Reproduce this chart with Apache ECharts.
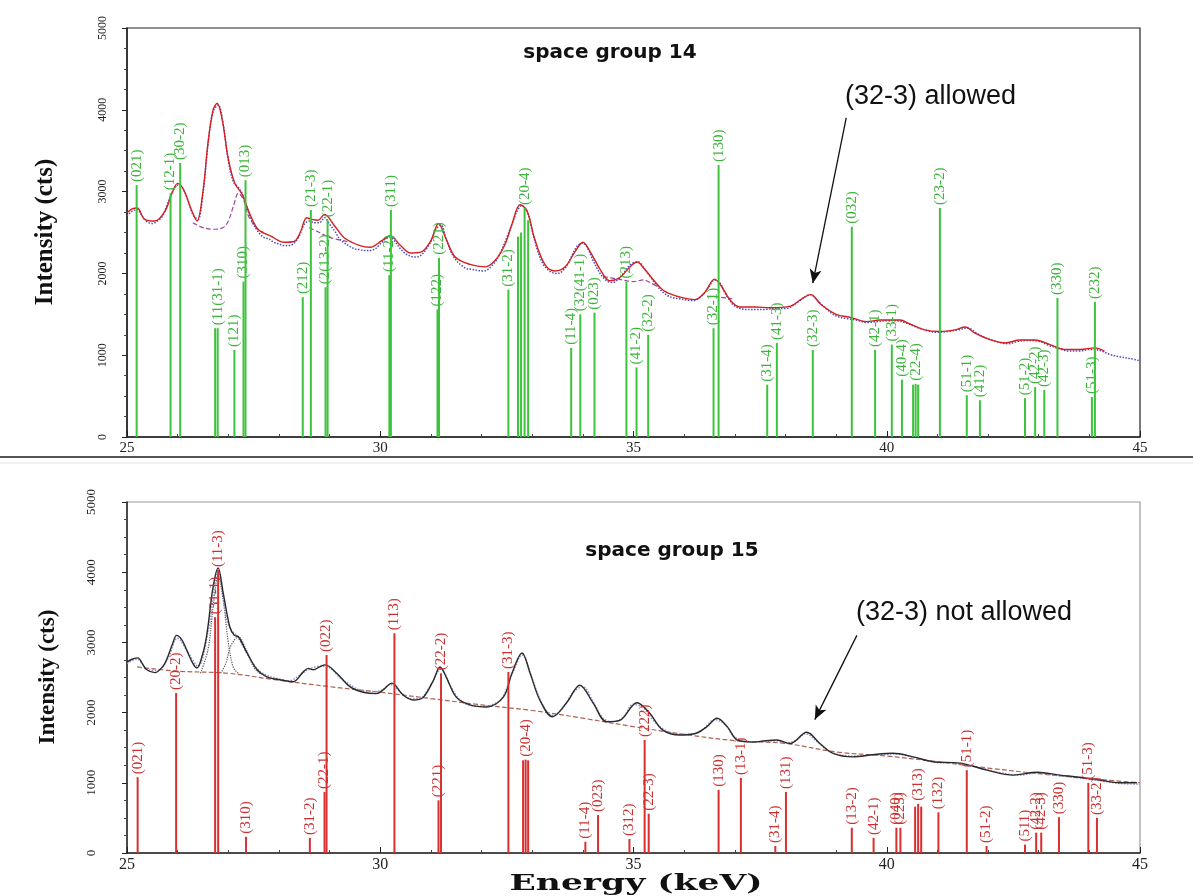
<!DOCTYPE html>
<html><head><meta charset="utf-8">
<script src="https://cdn.jsdelivr.net/npm/echarts@6/dist/echarts.min.js"></script>
<style>html,body{margin:0;padding:0;background:#fff}#c{width:1193px;height:896px}</style>
</head><body><div id="c"></div>
<script>
// ---------- data (energy keV, intensity cts) ----------
const energyTicks = [25, 30, 35, 40, 45];
const intensityTicks = [0, 1000, 2000, 3000, 4000, 5000];

// space group 14 : calculated fit (red)
const sg14Fit = [[25.0,2740],[25.1,2790],[25.2,2800],[25.35,2660],[25.55,2640],[25.75,2760],[25.9,3000],[26.0,3100],[26.12,3020],[26.27,2780],[26.38,2640],[26.5,3000],[26.6,3600],[26.7,4000],[26.78,4080],[26.88,3880],[27.0,3400],[27.13,3100],[27.27,2970],[27.43,2720],[27.6,2530],[27.83,2460],[28.1,2380],[28.3,2390],[28.42,2500],[28.55,2680],[28.65,2660],[28.77,2650],[28.9,2720],[29.1,2580],[29.3,2430],[29.6,2340],[29.8,2320],[30.03,2400],[30.2,2460],[30.4,2340],[30.6,2250],[30.8,2260],[31.0,2400],[31.15,2610],[31.3,2420],[31.48,2200],[31.77,2110],[32.07,2080],[32.27,2160],[32.46,2350],[32.6,2600],[32.76,2840],[32.9,2760],[33.05,2420],[33.25,2110],[33.45,2030],[33.65,2080],[33.85,2270],[34.0,2380],[34.14,2270],[34.34,2050],[34.53,1910],[34.73,1950],[34.93,2080],[35.07,2140],[35.22,2050],[35.42,1900],[35.62,1780],[35.92,1710],[36.21,1680],[36.41,1770],[36.6,1930],[36.74,1840],[36.9,1680],[37.1,1590],[37.4,1590],[37.7,1580],[38.1,1600],[38.3,1680],[38.5,1740],[38.7,1620],[39.0,1500],[39.3,1460],[39.6,1410],[39.87,1430],[40.26,1430],[40.46,1380],[40.75,1310],[41.05,1290],[41.35,1310],[41.55,1345],[41.74,1270],[42.04,1190],[42.34,1150],[42.63,1185],[42.93,1185],[43.22,1130],[43.52,1070],[43.82,1070],[44.11,1090],[44.3,1050]];

// space group 14 : observed (blue dots)
const sg14Obs = [[25.0,2700],[25.1,2760],[25.2,2780],[25.3,2700],[25.4,2630],[25.5,2610],[25.6,2640],[25.7,2700],[25.8,2850],[25.9,3000],[26.0,3080],[26.1,3040],[26.2,2900],[26.3,2720],[26.4,2660],[26.5,2980],[26.6,3580],[26.7,3980],[26.8,4060],[26.9,3820],[27.0,3380],[27.1,3120],[27.2,3050],[27.3,2940],[27.4,2740],[27.5,2600],[27.6,2500],[27.7,2440],[27.8,2420],[27.9,2380],[28.0,2360],[28.1,2340],[28.2,2340],[28.3,2370],[28.4,2460],[28.5,2600],[28.6,2640],[28.7,2620],[28.8,2620],[28.9,2680],[29.0,2600],[29.1,2520],[29.2,2420],[29.3,2370],[29.4,2330],[29.5,2300],[29.6,2290],[29.7,2280],[29.8,2280],[29.9,2300],[30.0,2360],[30.1,2420],[30.2,2440],[30.3,2380],[30.4,2300],[30.5,2240],[30.6,2210],[30.7,2200],[30.8,2220],[30.9,2290],[31.0,2390],[31.1,2540],[31.2,2590],[31.3,2420],[31.4,2260],[31.5,2160],[31.6,2100],[31.7,2060],[31.8,2050],[31.9,2040],[32.0,2030],[32.1,2040],[32.2,2090],[32.3,2170],[32.4,2290],[32.5,2440],[32.6,2600],[32.7,2760],[32.8,2830],[32.9,2760],[33.0,2520],[33.1,2290],[33.2,2130],[33.3,2050],[33.4,2010],[33.5,2000],[33.6,2030],[33.7,2110],[33.8,2240],[33.9,2340],[34.0,2370],[34.1,2300],[34.2,2160],[34.3,2040],[34.4,1950],[34.5,1900],[34.6,1890],[34.7,1930],[34.8,2000],[34.9,2080],[35.0,2130],[35.1,2140],[35.2,2070],[35.3,1990],[35.4,1900],[35.5,1820],[35.6,1760],[35.7,1720],[35.8,1700],[35.9,1690],[36.0,1680],[36.1,1670],[36.2,1670],[36.3,1700],[36.4,1760],[36.5,1850],[36.6,1920],[36.7,1890],[36.8,1770],[36.9,1670],[37.0,1600],[37.2,1560],[37.4,1560],[37.6,1560],[37.8,1570],[38.0,1570],[38.2,1630],[38.4,1720],[38.5,1740],[38.6,1690],[38.8,1570],[39.0,1480],[39.2,1450],[39.4,1430],[39.6,1400],[39.8,1410],[40.0,1420],[40.2,1420],[40.4,1390],[40.6,1340],[40.8,1300],[41.0,1280],[41.2,1290],[41.4,1310],[41.6,1330],[41.8,1260],[42.0,1200],[42.2,1160],[42.4,1140],[42.6,1170],[42.8,1180],[43.0,1170],[43.2,1120],[43.4,1080],[43.6,1050],[43.8,1050],[44.0,1070],[44.2,1060],[44.4,1010],[44.6,980],[44.8,960],[45.0,930]];

// space group 14 : fitted components (purple dashed)
const sg14CompA = [[26.3,2620],[26.5,2560],[26.7,2540],[26.9,2560],[27.0,2640],[27.1,2820],[27.2,2980],[27.3,2900],[27.4,2700],[27.55,2560],[27.7,2500]];
const sg14CompB = [[28.6,2560],[28.8,2500],[29.0,2440],[29.35,2390]];
const sg14CompC = [[34.4,1960],[34.7,1930],[35.0,1900],[35.2,1920],[35.35,1880],[35.5,1830]];
const sg14CompD = [[36.45,1720],[36.7,1710],[36.95,1690]];

// space group 14 : reflection positions [energy, intensity, hkl]
const sg14Peaks = [[25.19,3080,'(021)'],[25.86,2980,'(12-1)'],[26.05,3350,'(30-2)'],[26.74,1330,''],[26.79,1330,'(11(31-1)'],[27.12,1065,'(121)'],[27.30,1900,'(310)'],[27.34,3140,'(013)'],[28.47,1710,'(212)'],[28.63,2775,'(21-3)'],[28.92,1830,'(2(13-2)'],[28.96,2650,'(22-1)'],[30.18,1980,'(11-2)'],[30.21,2775,'(311)'],[31.13,1560,'(122)'],[31.16,2190,'(221)'],[32.53,1800,'(31-2)'],[32.72,2450,''],[32.78,2500,''],[32.85,2800,'(20-4)'],[32.92,2650,''],[33.77,1090,'(11-4)'],[33.95,1500,'(32(41-1)'],[34.23,1520,'(023)'],[34.86,1900,'(213)'],[35.06,850,'(41-2)'],[35.29,1250,'(32-2)'],[36.58,1330,'(32-1)'],[36.68,3325,'(130)'],[37.64,640,'(31-4)'],[37.83,1150,'(41-3)'],[38.54,1065,'(32-3)'],[39.31,2570,'(032)'],[39.77,1065,'(42-1)'],[40.10,1130,'(33-1)'],[40.30,700,'(40-4)'],[40.52,640,''],[40.57,650,'(22-4)'],[40.62,640,''],[41.05,2800,'(23-2)'],[41.58,510,'(51-1)'],[41.84,450,'(412)'],[42.73,475,'(51-2)'],[42.93,610,'(42-2)'],[43.11,575,'(42-3)'],[43.37,1700,'(330)'],[44.05,490,'(51-3)'],[44.11,1650,'(232)']];

// space group 15 : calculated fit (black)
const sg15Fit = [[25.0,2720],[25.1,2760],[25.22,2780],[25.3,2700],[25.39,2610],[25.55,2570],[25.7,2650],[25.78,2750],[25.9,2980],[25.98,3100],[26.08,3040],[26.18,2890],[26.3,2700],[26.38,2635],[26.5,2850],[26.58,3130],[26.7,3790],[26.8,4060],[26.9,3700],[27.03,3220],[27.12,3100],[27.2,3080],[27.37,2850],[27.57,2610],[27.76,2510],[28.08,2460],[28.28,2440],[28.48,2580],[28.58,2630],[28.68,2610],[28.8,2650],[28.91,2680],[29.14,2560],[29.4,2370],[29.66,2290],[29.93,2270],[30.05,2320],[30.23,2420],[30.45,2250],[30.65,2180],[30.85,2220],[31.05,2460],[31.18,2650],[31.3,2510],[31.5,2220],[31.77,2110],[32.1,2080],[32.43,2220],[32.6,2560],[32.8,2850],[32.96,2560],[33.15,2180],[33.4,1940],[33.68,2140],[33.94,2390],[34.2,2140],[34.47,1870],[34.73,1890],[35.07,2140],[35.32,1990],[35.58,1750],[35.92,1680],[36.25,1710],[36.45,1800],[36.65,1920],[36.85,1800],[37.05,1610],[37.37,1580],[37.6,1600],[37.83,1610],[38.09,1560],[38.42,1720],[38.68,1560],[38.94,1420],[39.33,1370],[39.72,1400],[40.12,1420],[40.52,1370],[40.91,1300],[41.45,1280],[41.98,1180],[42.5,1110],[42.97,1150],[43.42,1110],[43.8,1080],[44.2,1040],[44.6,1000],[44.94,1000]];

// space group 15 : observed (blue dots)
const sg15Obs = [[25.0,2700],[25.2,2760],[25.4,2620],[25.6,2600],[25.8,2760],[26.0,3060],[26.2,2860],[26.4,2660],[26.6,3150],[26.8,4000],[27.0,3250],[27.2,3060],[27.4,2800],[27.6,2600],[27.8,2520],[28.0,2480],[28.2,2450],[28.4,2530],[28.6,2620],[28.8,2660],[29.0,2640],[29.2,2500],[29.4,2400],[29.6,2320],[29.8,2300],[30.0,2310],[30.2,2400],[30.4,2290],[30.6,2200],[30.8,2210],[31.0,2400],[31.2,2620],[31.4,2360],[31.6,2160],[31.8,2100],[32.0,2090],[32.2,2110],[32.4,2200],[32.6,2540],[32.8,2820],[33.0,2480],[33.2,2120],[33.4,1960],[33.6,2060],[33.8,2280],[34.0,2370],[34.2,2160],[34.4,1920],[34.6,1870],[34.8,1940],[35.0,2120],[35.2,2060],[35.4,1880],[35.6,1760],[35.8,1700],[36.0,1690],[36.2,1700],[36.4,1780],[36.6,1900],[36.8,1830],[37.0,1650],[37.2,1590],[37.4,1580],[37.6,1590],[37.8,1600],[38.0,1570],[38.2,1600],[38.4,1700],[38.6,1600],[38.8,1480],[39.0,1410],[39.4,1380],[39.8,1400],[40.2,1410],[40.6,1350],[41.0,1290],[41.4,1270],[41.8,1220],[42.2,1150],[42.6,1110],[43.0,1140],[43.4,1100],[43.8,1070],[44.2,1030],[44.6,990],[45.0,980]];

// space group 15 : background (dashed) and components (dotted)
const sg15Background = [[25.2,2650],[26,2590],[27,2560],[28,2460],[29,2370],[30,2290],[31,2200],[32,2110],[33,2030],[34,1920],[35,1800],[36,1690],[37,1600],[38,1560],[39,1440],[40,1380],[41,1300],[42,1210],[43,1130],[44,1060],[45,1000]];
const sg15Comp1 = [[26.45,2560],[26.6,2900],[26.7,3500],[26.8,3950],[26.9,3600],[27.0,3000],[27.1,2640],[27.2,2560]];
const sg15Comp2 = [[26.85,2560],[26.95,2700],[27.05,2950],[27.2,3080],[27.35,2900],[27.5,2650],[27.65,2540]];

// space group 15 : reflection positions [energy, intensity, hkl]
const sg15Peaks = [[25.21,1080,'(021)'],[25.97,2280,'(20-2)'],[26.74,3360,'(31-1)'],[26.80,4030,'(11-3)'],[27.35,230,'(310)'],[28.61,215,'(31-2)'],[28.90,870,'(22-1)'],[28.94,2820,'(022)'],[30.28,3130,'(113)'],[31.15,750,'(221)'],[31.20,2560,'(22-2)'],[32.53,2580,'(31-3)'],[32.82,1320,''],[32.87,1330,'(20-4)'],[32.92,1320,''],[34.05,160,'(11-4)'],[34.30,540,'(023)'],[34.92,200,'(312)'],[35.22,1610,'(222)'],[35.30,560,'(22-3)'],[36.68,900,'(130)'],[37.12,1070,'(13-1)'],[37.80,100,'(31-4)'],[38.01,870,'(131)'],[39.31,360,'(13-2)'],[39.74,215,'(42-1)'],[40.19,360,'(040)'],[40.27,360,'(223)'],[40.56,660,''],[40.62,700,'(313)'],[40.68,660,''],[41.02,580,'(132)'],[41.58,1180,'(51-1)'],[41.97,100,'(51-2)'],[42.73,120,'(511)'],[42.95,290,'(42-2)'],[43.05,290,'(42-3)'],[43.40,510,'(330)'],[43.98,1000,'(51-3)'],[44.15,500,'(33-2)']];

// annotation arrows [from, to] in data units
const arrow14 = [[39.2,3900],[38.54,1880]];
const arrow15 = [[39.41,3100],[38.58,1900]];

// ---------- chart ----------
const chart = echarts.init(document.getElementById('c'), null, {renderer:'canvas'});

function sticks(peaks, color, labelColor, xi) {
  return {
    type:'custom', xAxisIndex:xi, yAxisIndex:xi, silent:true, z:5,
    data: peaks.map(p => [p[0], p[1]]),
    encode:{x:0, y:1},
    renderItem: function(params, api) {
      const e = api.value(0), v = api.value(1);
      const lbl = peaks[params.dataIndex][2];
      const a = api.coord([e, 0]), b = api.coord([e, v]);
      const ch = [{type:'line', shape:{x1:a[0], y1:a[1], x2:b[0], y2:b[1]}, style:{stroke:color, lineWidth:2}}];
      if (lbl) ch.push({type:'text', x:b[0], y:b[1]-3, rotation:Math.PI/2,
        style:{text:lbl, fill:labelColor, font:'15px "Liberation Serif"', align:'left', verticalAlign:'middle'}});
      return {type:'group', children:ch};
    }
  };
}
function line(data, xi, color, type, width, z, extra) {
  return Object.assign({type:'line', xAxisIndex:xi, yAxisIndex:xi, data:data, showSymbol:false, silent:true,
    z:z, smooth:0.35, lineStyle:{color:color, type:type, width:width}}, extra||{});
}
function arrowMark(arr) {
  return {markLine:{silent:true, symbol:['none','arrow'], symbolSize:[9,14], animation:false,
    lineStyle:{color:'#111', width:1.3, type:'solid'}, label:{show:false},
    data:[[{coord:arr[0]},{coord:arr[1]}]]}};
}
function xAx(gi, fs) {
  return {type:'value', gridIndex:gi, min:25, max:45, interval:5,
    axisLine:{lineStyle:{color:'#222', width:1.5}},
    axisTick:{inside:true, length:6, lineStyle:{color:'#222'}},
    minorTick:{show:true, splitNumber:5, length:3, lineStyle:{color:'#444'}},
    splitLine:{show:false},
    axisLabel:{margin:4, color:'#222', fontFamily:'Liberation Serif', fontSize:fs}};
}
function yAx(gi, fs, margin) {
  return {type:'value', gridIndex:gi, min:0, max:5000, interval:1000,
    axisLine:{show:true, lineStyle:{color:'#222', width:1.5}},
    axisTick:{show:true, length:5, lineStyle:{color:'#222'}},
    minorTick:{show:true, splitNumber:4, length:3, lineStyle:{color:'#444'}},
    splitLine:{show:false},
    axisLabel:{rotate:90, margin:margin, color:'#222', fontFamily:'Liberation Serif', fontSize:fs,
      formatter: v => String(v)}};
}

chart.setOption({
  animation:false,
  backgroundColor:'#fff',
  grid:[
    {left:127, top:28, width:1013, height:409, show:true, borderColor:'#222', borderWidth:1.2, backgroundColor:'transparent'},
    {left:127, top:502, width:1013, height:351, show:true, borderColor:'#999', borderWidth:1.2, backgroundColor:'transparent'}
  ],
  xAxis:[xAx(0,15), xAx(1,16)],
  yAxis:[yAx(0,12,18), yAx(1,13,29)],
  series:[
    line(sg14CompA, 0, '#9a4a9a', 'dashed', 1.2, 2),
    line(sg14CompB, 0, '#9a4a9a', 'dashed', 1.2, 2),
    line(sg14CompC, 0, '#9a4a9a', 'dashed', 1.2, 2),
    line(sg14CompD, 0, '#9a4a9a', 'dashed', 1.2, 2),
    line(sg14Obs, 0, '#4a4ac0', 'dotted', 1.5, 3),
    line(sg14Fit, 0, '#d42020', 'solid', 1.4, 4, arrowMark(arrow14)),
    sticks(sg14Peaks, '#3cc43c', '#3cb43c', 0),

    line(sg15Background, 1, '#b06050', 'dashed', 1.2, 2),
    line(sg15Comp1, 1, '#555', 'dotted', 1.2, 2),
    line(sg15Comp2, 1, '#555', 'dotted', 1.2, 2),
    line(sg15Obs, 1, '#8a94d0', 'dotted', 1.5, 3),
    line(sg15Fit, 1, '#2a2a2a', 'solid', 1.4, 4, arrowMark(arrow15)),
    sticks(sg15Peaks, '#d83030', '#cc3030', 1)
  ],
  graphic:[
    {type:'line', shape:{x1:0, y1:457, x2:1193, y2:457}, style:{stroke:'#555', lineWidth:2}, silent:true},
    {type:'line', shape:{x1:0, y1:463, x2:1193, y2:463}, style:{stroke:'#e2e2e2', lineWidth:1}, silent:true},
    {type:'text', x:610, y:53, style:{text:'space group 14', font:'bold 20px "DejaVu Sans"', fill:'#111', align:'center', verticalAlign:'middle'}},
    {type:'text', x:672, y:551, style:{text:'space group 15', font:'bold 20px "DejaVu Sans"', fill:'#111', align:'center', verticalAlign:'middle'}},
    {type:'text', x:845, y:97, style:{text:'(32-3) allowed', font:'27px "Liberation Sans"', fill:'#111', align:'left', verticalAlign:'middle'}},
    {type:'text', x:856, y:613, style:{text:'(32-3) not allowed', font:'27px "Liberation Sans"', fill:'#111', align:'left', verticalAlign:'middle'}},
    {type:'text', x:46, y:232, rotation:Math.PI/2, style:{text:'Intensity (cts)', font:'bold 25px "Liberation Serif"', fill:'#111', align:'center', verticalAlign:'middle'}},
    {type:'text', x:48, y:677, rotation:Math.PI/2, style:{text:'Intensity (cts)', font:'bold 23px "Liberation Serif"', fill:'#111', align:'center', verticalAlign:'middle'}},
    {type:'text', x:636, y:884, scaleX:1.5, style:{text:'Energy (keV)', font:'bold 23px "DejaVu Serif"', fill:'#111', align:'center', verticalAlign:'middle'}}
  ]
});
</script></body></html>
